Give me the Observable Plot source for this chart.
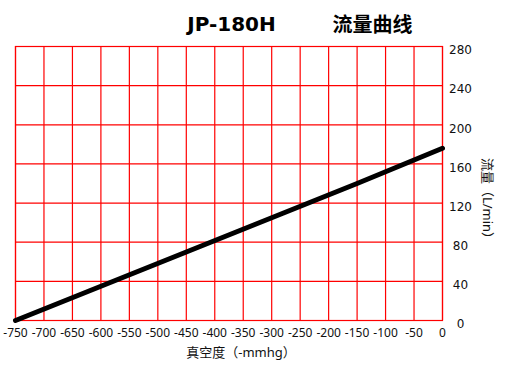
<!DOCTYPE html>
<html>
<head>
<meta charset="utf-8">
<script src="https://cdn.jsdelivr.net/npm/d3@7"></script>
<script src="https://cdn.jsdelivr.net/npm/@observablehq/plot@0.6"></script>
<style>
  html, body { margin: 0; padding: 0; background: #fff; }
</style>
</head>
<body>
<div id="chart"></div>
<script>
// Data
const vacuum = [-750, -600, -450, -300, -150, 0];   // 真空度 (-mmhg)
const flow   = [0, 35, 70, 105, 140, 176];          // 流量 (L/min)
const xTicks = [-750, -700, -650, -600, -550, -500, -450, -400, -350, -300, -250, -200, -150, -100, -50, 0];
const yTicks = [0, 40, 80, 120, 160, 200, 240, 280];
const modelTitle = "JP-180H";
const chartTitle = "流量曲线";
const xLabel = "真空度（-mmhg）";
const yLabel = "流量（L/min）";

const data = vacuum.map((v, i) => ({vacuum: v, flow: flow[i]}));

const chart = Plot.plot({
  width: 509,
  height: 369,
  marginLeft: 15,
  marginRight: 67,
  marginTop: 46,
  marginBottom: 49,
  x: {domain: [-750, 0], label: null},
  y: {domain: [0, 280], label: null},
  style: {fontFamily: "'Noto Sans', 'Noto Sans CJK SC', sans-serif", fontSize: "12px", color: "#111", background: "#fff"},
  marks: [
    Plot.gridX(xTicks, {stroke: "#ff0000", strokeOpacity: 1, strokeWidth: 1.2}),
    Plot.gridY(yTicks, {stroke: "#ff0000", strokeOpacity: 1, strokeWidth: 1.2}),
    Plot.frame({stroke: "#ff0000", strokeWidth: 1.2}),
    Plot.axisX(xTicks, {anchor: "bottom", tickSize: 0, tickPadding: 8, label: null, fill: "#111",
      tickFormat: d => String(d)}),
    Plot.axisY(yTicks, {anchor: "right", tickSize: 0, tickPadding: 18, textAnchor: "middle", dy: 4, label: null, fill: "#111",
      fontFamily: "'DejaVu Sans', sans-serif", fontSize: 12, tickFormat: d => String(d)}),
    Plot.line(data, {x: "vacuum", y: "flow", stroke: "#000", strokeWidth: 5}),
    Plot.text([modelTitle], {frameAnchor: "top-left", dx: 216, dy: -16, textAnchor: "middle", lineAnchor: "bottom",
      fontFamily: "'DejaVu Sans', sans-serif", fontWeight: "bold", fontSize: 20, fill: "#000"}),
    Plot.text([chartTitle], {frameAnchor: "top-left", dx: 357, dy: -15, textAnchor: "middle", lineAnchor: "bottom",
      fontFamily: "'Noto Sans CJK SC', sans-serif", fontWeight: "bold", fontSize: 20, fill: "#000"}),
    Plot.text([xLabel], {frameAnchor: "bottom", dx: 12, dy: 32, textAnchor: "middle", lineAnchor: "middle",
      fontFamily: "'Noto Sans', 'Noto Sans CJK SC', sans-serif", fontSize: 13, fill: "#111"}),
    Plot.text([yLabel], {frameAnchor: "right", dx: 45, dy: 18, rotate: 90, textAnchor: "middle", lineAnchor: "middle",
      fontFamily: "'Noto Sans', 'Noto Sans CJK SC', sans-serif", fontSize: 13, fill: "#111"})
  ]
});
document.getElementById("chart").appendChild(chart);
</script>
</body>
</html>
